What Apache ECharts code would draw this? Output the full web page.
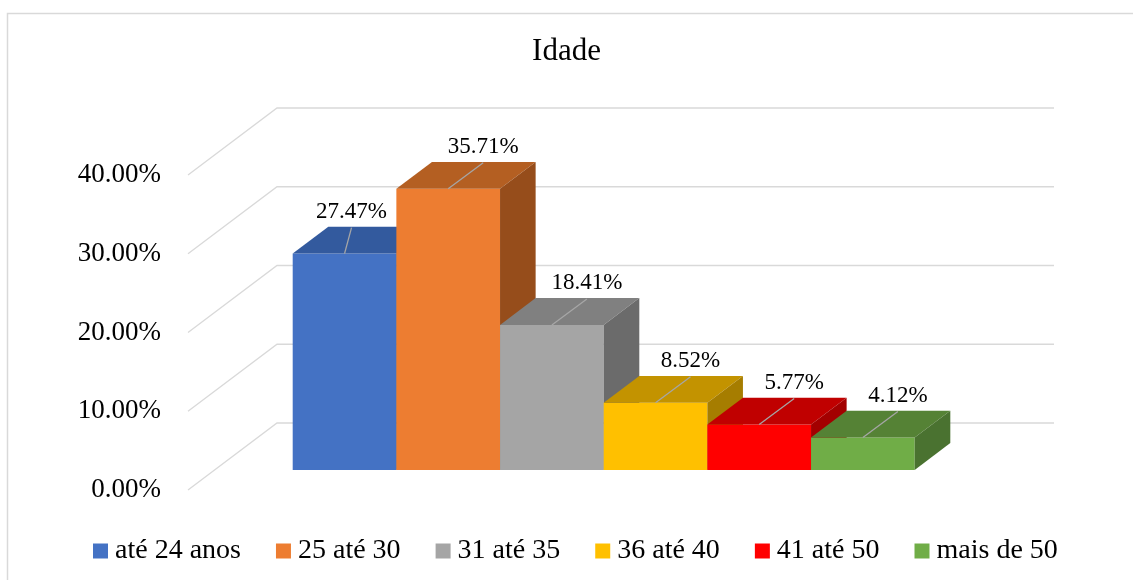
<!DOCTYPE html>
<html lang="pt">
<head>
    <meta charset="UTF-8">
    <title>Idade</title>
    <style>
        html, body { margin: 0; padding: 0; background: #fff; }
        #container { width: 1133px; height: 580px; }
    </style>
</head>
<body>
    <div id="container"></div>
    <script src="https://cdn.jsdelivr.net/npm/echarts@6/dist/echarts.min.js"></script>
    <script>
        // dados
        var categories = ['até 24 anos', '25 até 30', '31 até 35', '36 até 40', '41 até 50', 'mais de 50'];
        var values = [0.2747, 0.3571, 0.1841, 0.0852, 0.0577, 0.0412];
        var yTicks = [0, 0.1, 0.2, 0.3, 0.4];

        // cores: frente, topo, lateral
        var frontColors = ['#4472C4', '#ED7D31', '#A5A5A5', '#FFC000', '#FF0000', '#70AD47'];
        var topColors = ['#335A9E', '#B45F22', '#808080', '#C39300', '#C00000', '#558235'];
        var sideColors = ['#2B4C87', '#964D1B', '#6B6B6B', '#A67D00', '#A30000', '#4A7230'];

        var FONT = 'Liberation Serif';
        // vetor de profundidade do piso (perspectiva oblíqua)
        var DEPTH_X = 89, DEPTH_Y = -67;
        var BAR_D0 = 0.3, BAR_D1 = 0.7;

        function pct(v) {
            return (v * 100).toFixed(2) + '%';
        }

        var chart = echarts.init(document.getElementById('container'));

        function gridRender(params, api) {
            var v = api.value(0);
            var front = api.coord([0, v]);
            var right = api.coord([1, v]);
            return {
                type: 'polyline',
                shape: {
                    points: [
                        front,
                        [front[0] + DEPTH_X, front[1] + DEPTH_Y],
                        [right[0] + DEPTH_X, right[1] + DEPTH_Y]
                    ]
                },
                style: { stroke: '#D9D9D9', lineWidth: 1.3, fill: null },
                silent: true
            };
        }

        function barRender(params, api) {
            var i = api.value(0);
            var v = api.value(1);
            var base = api.coord([i, 0]);
            var top = api.coord([i, v]);
            var w = api.size([1, 0])[0];
            var ox = BAR_D0 * DEPTH_X, oy = BAR_D0 * DEPTH_Y;
            var bx = (BAR_D1 - BAR_D0) * DEPTH_X, by = (BAR_D1 - BAR_D0) * DEPTH_Y;
            var x0 = base[0] - w / 2 + ox, x1 = x0 + w;
            var yb = base[1] + oy, yt = top[1] + oy;
            var xc = (x0 + x1) / 2;
            // se a próxima barra é mais alta, o rótulo fica mais à esquerda
            var nextTaller = i + 1 < values.length && values[i + 1] > v;
            var lx = xc + (nextTaller ? 7 : 35);
            var ly = yt - 42;
            return {
                type: 'group',
                children: [
                    {
                        type: 'rect',
                        shape: { x: x0, y: yt, width: w, height: yb - yt },
                        style: { fill: frontColors[i] }
                    },
                    {
                        type: 'polygon',
                        shape: { points: [[x0, yt], [x1, yt], [x1 + bx, yt + by], [x0 + bx, yt + by]] },
                        style: { fill: topColors[i] }
                    },
                    {
                        type: 'polygon',
                        shape: { points: [[x1, yt], [x1 + bx, yt + by], [x1 + bx, yb + by], [x1, yb]] },
                        style: { fill: sideColors[i] }
                    },
                    {
                        type: 'line',
                        shape: { x1: xc, y1: yt, x2: lx, y2: ly + 16 },
                        style: { stroke: '#A6A6A6', lineWidth: 1.3 }
                    },
                    {
                        type: 'text',
                        x: lx,
                        y: ly,
                        style: {
                            text: pct(v),
                            fill: '#000',
                            font: '23px ' + FONT,
                            align: 'center',
                            verticalAlign: 'middle'
                        }
                    }
                ]
            };
        }

        var series = [{
            type: 'custom',
            name: 'grade',
            xAxisIndex: 0,
            yAxisIndex: 0,
            renderItem: gridRender,
            data: yTicks.map(function (t) { return [t]; }),
            encode: { y: 0 },
            silent: true,
            z: 1
        }];
        categories.forEach(function (name, i) {
            series.push({
                type: 'custom',
                name: name,
                xAxisIndex: 1,
                yAxisIndex: 1,
                renderItem: barRender,
                itemStyle: { color: frontColors[i] },
                data: [[i, values[i]]],
                encode: { x: 0, y: 1 },
                z: 2
            });
        });

        var options = {
            animation: false,
            title: {
                text: 'Idade',
                left: 'center',
                top: 31,
                textStyle: { fontFamily: FONT, fontSize: 31, fontWeight: 'normal', color: '#000' }
            },
            legend: {
                data: categories,
                left: 88,
                top: 532,
                icon: 'rect',
                itemWidth: 15,
                itemHeight: 15,
                itemGap: 35,
                textStyle: { fontFamily: FONT, fontSize: 28, color: '#000', padding: [0, 0, 0, 2] }
            },
            graphic: [{
                type: 'rect',
                left: 5,
                top: 11,
                shape: { width: 1150, height: 600 },
                style: { fill: null, stroke: '#D9D9D9', lineWidth: 1.5 },
                silent: true
            }],
            grid: [
                { left: 188, right: 168, top: 175, bottom: 90 },
                { left: 266, right: 245, top: 175, bottom: 90 }
            ],
            xAxis: [
                { type: 'value', gridIndex: 0, min: 0, max: 1, show: false },
                { type: 'category', gridIndex: 1, data: categories, show: false }
            ],
            yAxis: [
                {
                    type: 'value',
                    gridIndex: 0,
                    min: 0,
                    max: 0.4,
                    interval: 0.1,
                    axisLine: { show: false },
                    axisTick: { show: false },
                    splitLine: { show: false },
                    axisLabel: {
                        formatter: pct,
                        margin: 27,
                        fontFamily: FONT,
                        fontSize: 27,
                        color: '#000'
                    }
                },
                { type: 'value', gridIndex: 1, min: 0, max: 0.4, show: false }
            ],
            series: series
        };
        chart.setOption(options);
    </script>
</body>
</html>
